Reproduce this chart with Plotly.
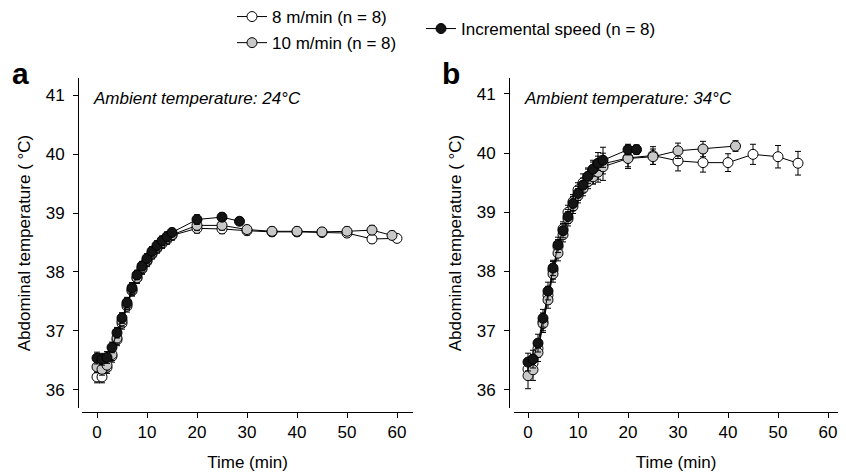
import plotly.graph_objects as go

W, H = 846, 472
OFF = 8  # default page body margin that shifts the plot in the browser
FONT = "Liberation Sans, Arial, sans-serif"

# ---------------- Panel a (ambient 24 °C) ----------------
a_t_8 = [0, 1, 2, 3, 4, 5, 6, 7, 8, 9, 10, 11, 12, 13, 14, 15, 20, 25, 30, 35, 40, 45, 50, 55, 60]
a_y_8 = [36.22, 36.22, 36.38, 36.57, 36.85, 37.13, 37.42, 37.68, 37.90, 38.05, 38.18, 38.30, 38.40,
         38.48, 38.55, 38.62, 38.74, 38.73, 38.70, 38.68, 38.68, 38.67, 38.66, 38.56, 38.57]
a_e_8 = [0.10, 0.10, 0.10, 0.10, 0.10, 0.10, 0.10, 0.09, 0.09, 0.09, 0.09, 0.08, 0.08,
         0.08, 0.08, 0.08, 0.08, 0.08, 0.07, 0.07, 0.07, 0.07, 0.07, 0.07, 0.06]

a_t_10 = [0, 1, 2, 3, 4, 5, 6, 7, 8, 9, 10, 11, 12, 13, 14, 15, 20, 25, 30, 35, 40, 45, 50, 55, 59]
a_y_10 = [36.39, 36.35, 36.42, 36.60, 36.88, 37.17, 37.45, 37.70, 37.90, 38.07, 38.20, 38.32, 38.42,
          38.50, 38.57, 38.63, 38.79, 38.79, 38.72, 38.69, 38.69, 38.68, 38.69, 38.71, 38.62]
a_e_10 = [0.10, 0.10, 0.10, 0.10, 0.10, 0.10, 0.09, 0.09, 0.09, 0.09, 0.08, 0.08, 0.08,
          0.08, 0.08, 0.08, 0.09, 0.08, 0.07, 0.07, 0.07, 0.07, 0.07, 0.08, 0.07]

a_t_inc = [0, 1, 2, 3, 4, 5, 6, 7, 8, 9, 10, 11, 12, 13, 14, 15, 20, 25, 28.5]
a_y_inc = [36.54, 36.52, 36.55, 36.72, 36.97, 37.22, 37.48, 37.73, 37.95, 38.10, 38.23, 38.35, 38.45,
           38.53, 38.60, 38.67, 38.89, 38.93, 38.86]
a_e_inc = [0.10, 0.10, 0.10, 0.09, 0.09, 0.09, 0.09, 0.09, 0.08, 0.08, 0.08, 0.08, 0.08,
           0.08, 0.08, 0.07, 0.08, 0.07, 0.06]

# ---------------- Panel b (ambient 34 °C) ----------------
b_t_8 = [0, 1, 2, 3, 4, 5, 6, 7, 8, 9, 10, 11, 12, 13, 14, 15, 20, 25, 30, 35, 40, 45, 50, 54]
b_y_8 = [36.35, 36.45, 36.70, 37.15, 37.60, 38.02, 38.42, 38.72, 39.00, 39.18, 39.38, 39.50, 39.60,
         39.68, 39.76, 39.82, 39.92, 39.96, 39.87, 39.84, 39.84, 39.98, 39.94, 39.83]
b_e_8 = [0.15, 0.15, 0.15, 0.15, 0.15, 0.15, 0.12, 0.12, 0.12, 0.12, 0.12, 0.15, 0.15,
         0.20, 0.25, 0.28, 0.15, 0.15, 0.17, 0.16, 0.15, 0.17, 0.19, 0.20]

b_t_10 = [0, 1, 2, 3, 4, 5, 6, 7, 8, 9, 10, 11, 12, 13, 14, 15, 20, 25, 30, 35, 41.5]
b_y_10 = [36.24, 36.34, 36.63, 37.12, 37.52, 37.96, 38.31, 38.62, 38.89, 39.10, 39.28, 39.40, 39.52,
          39.60, 39.68, 39.77, 39.91, 39.94, 40.04, 40.07, 40.12]
b_e_10 = [0.22, 0.18, 0.15, 0.15, 0.14, 0.14, 0.13, 0.12, 0.12, 0.12, 0.12, 0.12, 0.12,
          0.12, 0.12, 0.12, 0.17, 0.13, 0.13, 0.13, 0.09]

b_t_inc = [0, 1, 2, 3, 4, 5, 6, 7, 8, 9, 10, 11, 12, 13, 14, 15, 20, 21.7]
b_y_inc = [36.47, 36.52, 36.79, 37.21, 37.67, 38.06, 38.45, 38.69, 38.93, 39.15, 39.32, 39.46, 39.61,
           39.73, 39.83, 39.88, 40.06, 40.06]
b_e_inc = [0.15, 0.15, 0.15, 0.15, 0.15, 0.13, 0.13, 0.12, 0.12, 0.12, 0.12, 0.12, 0.12,
           0.12, 0.12, 0.12, 0.09, 0.08]

x_ticks = [0, 10, 20, 30, 40, 50, 60]
y_ticks = [36, 37, 38, 39, 40, 41]
series_names = ["8 m/min (n = 8)", "10 m/min (n = 8)", "Incremental speed (n = 8)"]
fills = ["white", "#c8c8c8", "#141414"]

fig = go.Figure()

panels = [
    ("x", "y", [(a_t_8, a_y_8, a_e_8), (a_t_10, a_y_10, a_e_10), (a_t_inc, a_y_inc, a_e_inc)], True),
    ("x2", "y2", [(b_t_8, b_y_8, b_e_8), (b_t_10, b_y_10, b_e_10), (b_t_inc, b_y_inc, b_e_inc)], False),
]
for xa, ya, series, show in panels:
    for i, (t, v, e) in enumerate(series):
        fig.add_trace(go.Scatter(
            x=t, y=v, xaxis=xa, yaxis=ya, mode="lines+markers",
            name=series_names[i], showlegend=show,
            legend="legend2" if i == 2 else "legend",
            legendgroup=f"g{i}",
            line=dict(color="black", width=1),
            marker=dict(size=10, color=fills[i], line=dict(color="black", width=1)),
            error_y=dict(type="data", array=e, visible=True, color="black", thickness=1, width=3),
        ))

FW, FH = W - OFF, H - OFF


def px_x(p):
    return (p - OFF) / FW


def px_y(p):
    return 1 - (p - OFF) / FH


axis_font = dict(family=FONT, size=17, color="black")
common_x = dict(showline=True, linecolor="black", linewidth=1, ticks="outside", ticklen=5,
                tickcolor="black", tickvals=x_ticks, showgrid=False, zeroline=False,
                tickfont=axis_font, anchor="free", position=px_y(412),
                title=dict(text="Time (min)", font=axis_font, standoff=14))
common_y = dict(showline=True, linecolor="black", linewidth=1, ticks="outside", ticklen=5,
                tickcolor="black", tickvals=y_ticks, showgrid=False, zeroline=False,
                tickfont=axis_font, anchor="free", ticklabelstandoff=5,
                title=dict(text="Abdominal temperature ( °C)", font=axis_font, standoff=9))

fig.update_layout(
    width=FW, height=FH,
    margin=dict(l=0, r=0, t=0, b=0, autoexpand=False),
    paper_bgcolor="white", plot_bgcolor="white",
    font=dict(family=FONT, size=17, color="black"),
    xaxis=dict(common_x, domain=[px_x(82), px_x(413)], range=[-3, 63.2]),
    yaxis=dict(common_y, domain=[px_y(408), px_y(78)], range=[35.693, 41.29], position=px_x(78)),
    xaxis2=dict(common_x, domain=[px_x(514), px_x(838)], range=[-2.8, 62]),
    yaxis2=dict(common_y, domain=[px_y(408), px_y(78)], range=[35.694, 41.27], position=px_x(509)),
    legend=dict(x=px_x(232), y=px_y(-1), xanchor="left", yanchor="top", tracegroupgap=1,
                font=dict(family=FONT, size=17, color="black"), bgcolor="rgba(0,0,0,0)",
                traceorder="grouped"),
    legend2=dict(x=px_x(421), y=px_y(11), xanchor="left", yanchor="top",
                 font=dict(family=FONT, size=17, color="black"), bgcolor="rgba(0,0,0,0)"),
    annotations=[
        dict(text="<b>a</b>", x=px_x(20), y=px_y(73), xref="paper", yref="paper",
             xanchor="center", yanchor="middle", showarrow=False,
             font=dict(family=FONT, size=30, color="black")),
        dict(text="<b>b</b>", x=px_x(451), y=px_y(73), xref="paper", yref="paper",
             xanchor="center", yanchor="middle", showarrow=False,
             font=dict(family=FONT, size=30, color="black")),
        dict(text="<i>Ambient temperature: 24°C</i>", x=px_x(91), y=px_y(98), xref="paper",
             yref="paper", xanchor="left", yanchor="middle", showarrow=False,
             font=dict(family=FONT, size=17, color="black")),
        dict(text="<i>Ambient temperature: 34°C</i>", x=px_x(522), y=px_y(98), xref="paper",
             yref="paper", xanchor="left", yanchor="middle", showarrow=False,
             font=dict(family=FONT, size=17, color="black")),
    ],
)

fig.write_html("out.html")
